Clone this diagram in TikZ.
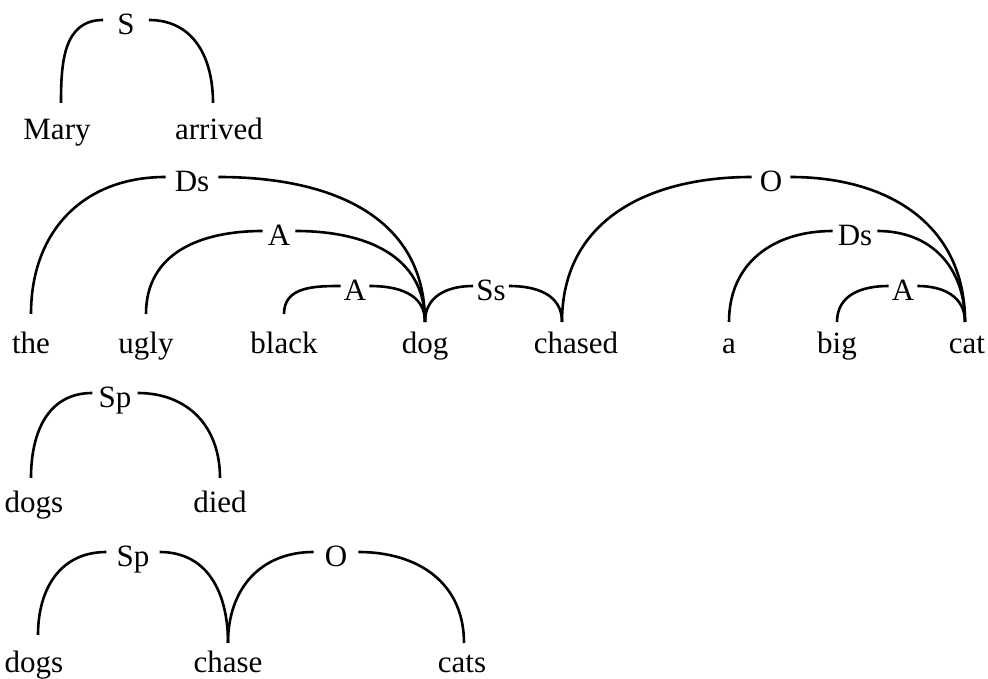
\documentclass[tikz,border=0pt]{standalone}
\usepackage{fontspec}
\setmainfont{Liberation Serif}
\begin{document}
\begin{tikzpicture}[x=1pt,y=1pt,
  word/.style={font=\fontsize{31}{36}\selectfont, anchor=base, inner sep=0pt,
    text height=20pt, text depth=7pt, outer ysep=12pt},
  lbl/.style={font=\fontsize{31}{36}\selectfont, inner xsep=4pt, inner ysep=0pt,
    text height=30pt, text depth=0pt},
  link/.style={line width=2.6pt, looseness=1.1}]
\useasboundingbox (0,0) rectangle (988,679);

% Mary arrived
\node[word, outer ysep=17pt] (mary) at (57,539) {Mary};
\node[word, outer ysep=17pt] (arrived) at (219,539) {arrived};
\node[lbl, inner xsep=14pt] (lS) at (126,659) {S};
\draw[link] ([xshift=4pt]mary.north) to[out=90,in=180] (lS.west)
  (lS.east) to[out=0,in=90] ([xshift=-6pt]arrived.north);

% the ugly black dog chased a big cat
\node[word, outer ysep=20pt] (the) at (31,325) {the};
\node[word, outer ysep=20pt] (ugly) at (146,325) {ugly};
\node[word, outer ysep=20pt] (black) at (284,325) {black};
\node[word] (dog) at (425,325) {dog};
\node[word] (chased) at (576,325) {chased};
\node[word] (a) at (729,325) {a};
\node[word] (big) at (837,325) {big};
\node[word] (cat) at (967,325) {cat};

\node[lbl, inner xsep=9pt] (lDs1) at (192,502) {Ds};
\node[lbl, inner xsep=5pt] (lA1) at (279,448) {A};
\node[lbl, inner xsep=3pt] (lA2) at (355,393) {A};
\node[lbl, inner xsep=3pt] (lSs) at (491,393) {Ss};
\node[lbl, inner xsep=8pt] (lO1) at (771,502) {O};
\node[lbl, inner xsep=5pt] (lDs2) at (855,448) {Ds};
\node[lbl, inner xsep=3pt] (lA3) at (903,393) {A};

\draw[link] (the.north) to[out=90,in=180] (lDs1.west)
  (lDs1.east) to[out=0,in=90] (dog.north);
\draw[link] (ugly.north) to[out=90,in=180] (lA1.west)
  (lA1.east) to[out=0,in=90] (dog.north);
\draw[link] (black.north) to[out=90,in=180] (lA2.west)
  (lA2.east) to[out=0,in=90] (dog.north);
\draw[link] (dog.north) to[out=90,in=180] (lSs.west)
  (lSs.east) to[out=0,in=90] ([xshift=-14pt]chased.north);
\draw[link] ([xshift=-14pt]chased.north) to[out=90,in=180] (lO1.west)
  (lO1.east) to[out=0,in=90] ([xshift=-2pt]cat.north);
\draw[link] (a.north) to[out=90,in=180] (lDs2.west)
  (lDs2.east) to[out=0,in=90] ([xshift=-2pt]cat.north);
\draw[link] (big.north) to[out=90,in=180] (lA3.west)
  (lA3.east) to[out=0,in=90] ([xshift=-2pt]cat.north);

% dogs died
\node[word, outer ysep=15pt] (dogs) at (34,166) {dogs};
\node[word, outer ysep=15pt] (died) at (220,166) {died};
\node[lbl, inner xsep=6pt] (lSp1) at (115,286) {Sp};
\draw[link] ([xshift=-3pt]dogs.north) to[out=90,in=180] (lSp1.west)
  (lSp1.east) to[out=0,in=90] (died.north);

% dogs chase cats
\node[word, outer ysep=18pt] (dogsb) at (34,6) {dogs};
\node[word, outer ysep=10pt] (chase) at (228,6) {chase};
\node[word, outer ysep=10pt] (cats) at (462,6) {cats};
\node[lbl, inner xsep=10pt] (lSp2) at (133,127) {Sp};
\node[lbl, inner xsep=11pt] (lO2) at (336,127) {O};
\draw[link] ([xshift=4pt]dogsb.north) to[out=90,in=180] (lSp2.west)
  (lSp2.east) to[out=0,in=90] (chase.north);
\draw[link] (chase.north) to[out=90,in=180] (lO2.west)
  (lO2.east) to[out=0,in=90] ([xshift=2pt]cats.north);
\end{tikzpicture}
\end{document}
